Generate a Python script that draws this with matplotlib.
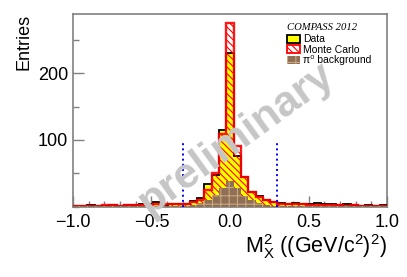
"""Missing-mass-squared histogram: data, Monte Carlo and pi0 background (COMPASS 2012)."""
import numpy as np
import matplotlib.pyplot as plt
from matplotlib.patches import Patch
from matplotlib.ticker import MultipleLocator

plt.rcParams["font.family"] = ["Liberation Sans", "DejaVu Sans"]
plt.rcParams["mathtext.fontset"] = "custom"
plt.rcParams["mathtext.rm"] = "Liberation Sans"
plt.rcParams["mathtext.it"] = "Liberation Sans"
plt.rcParams["mathtext.default"] = "regular"
plt.rcParams["hatch.linewidth"] = 0.8

N_BINS = 43
X_MIN, X_MAX = -1.0, 1.0

data_counts = [2, 2, 3, 2, 2, 3, 2, 3, 3, 4, 5, 7, 3, 4, 5,
               5, 9, 13, 34, 48, 115, 230, 76, 45, 23, 16, 10,
               8, 6, 5, 6, 4, 4, 6, 5, 4, 3, 4, 3, 2, 3, 2, 3]
mc_counts = [2, 2, 2, 2, 3, 3, 2, 3, 3, 3, 3, 4, 4, 4, 4,
             4, 8, 11, 25, 50, 109, 275, 91, 45, 23, 15, 10,
             8, 5, 4, 4, 4, 3, 3, 3, 3, 3, 2, 3, 2, 2, 2, 2]
bkg_counts = [1, 1, 1, 1, 1, 1, 1, 1, 1, 1, 1, 1, 1, 1, 2,
              2, 3, 6, 10, 18, 28, 38, 29, 17, 10, 6, 3,
              2, 2, 1, 1, 1, 1, 1, 1, 1, 1, 1, 1, 1, 1, 1, 1]
cut_values = [-0.3, 0.3]
cut_height = 95

DATA_FILL = "#ffff00"
MC_COLOUR = "#ff0000"
BKG_FILL = "#8f6f55"
BKG_HATCH = "#c9a77f"
FRAME = "#808080"

edges = np.linspace(X_MIN, X_MAX, N_BINS + 1)

fig = plt.figure(figsize=(4.07, 2.77), dpi=100)
ax = fig.add_axes([0.179, 0.253, 0.772, 0.696])

ax.stairs(data_counts, edges, fill=True, facecolor=DATA_FILL, edgecolor="none", zorder=2)
ax.stairs(data_counts, edges, color="black", linewidth=1.3, zorder=3)
ax.stairs(mc_counts, edges, fill=True, facecolor="none", edgecolor=MC_COLOUR,
          hatch="\\\\\\\\\\", linewidth=0, zorder=3.5)
ax.stairs(mc_counts, edges, color=MC_COLOUR, linewidth=1.7, alpha=0.9, zorder=4)
ax.stairs(bkg_counts, edges, fill=True, facecolor=BKG_FILL, edgecolor=BKG_HATCH,
          hatch="++", linewidth=0, zorder=5)
ax.vlines(cut_values, 0, cut_height, colors="blue", linestyles=":", linewidth=1.4, zorder=6)

fig.text(0.58, 0.50, "preliminary", rotation=36, fontsize=31, fontweight="bold",
         color="#c6c6c6", ha="center", va="center", zorder=1)
ax.set_facecolor("none")

ax.set_xlim(X_MIN, X_MAX)
ax.set_ylim(0, 288)
ax.xaxis.set_major_locator(MultipleLocator(0.5))
ax.xaxis.set_minor_locator(MultipleLocator(0.1))
ax.yaxis.set_minor_locator(MultipleLocator(50))
ax.set_yticks([100, 200])
ax.xaxis.set_major_formatter(plt.FuncFormatter(lambda v, p: f"{v:.1f}".replace("-", "\u2212")))
ax.tick_params(which="both", direction="in", colors=FRAME, labelcolor="black", labelsize=13)
ax.tick_params(which="major", length=8, width=1)
ax.tick_params(which="minor", length=4, width=1)
ax.tick_params(axis="x", pad=5)
for spine in ax.spines.values():
    spine.set_color(FRAME)
    spine.set_linewidth(1.2)

ax.set_ylabel("Entries", fontsize=13, loc="top")
ax.yaxis.set_label_coords(-0.13, 1.0)
ax.set_xlabel("M$_X^2$ ((GeV/c$^2$)$^2$)", fontsize=15.5, loc="right")
ax.xaxis.set_label_coords(1.0, -0.13)

ax.text(0.68, 0.955, "COMPASS 2012", transform=ax.transAxes, fontsize=7.7,
        family=["Liberation Serif", "DejaVu Serif"], style="italic", va="top")
handles = [
    Patch(facecolor=DATA_FILL, edgecolor="black", linewidth=1.3),
    Patch(facecolor="white", edgecolor=MC_COLOUR, hatch="\\\\\\\\\\", linewidth=1.3),
    Patch(facecolor=BKG_FILL, edgecolor=BKG_HATCH, hatch="++", linewidth=0),
]
ax.legend(handles, ["Data", "Monte Carlo", "\u03c0\u2070 background"], loc="upper left",
          bbox_to_anchor=(0.68, 0.895), frameon=False, fontsize=7.5, handlelength=1.3,
          handleheight=0.8, handletextpad=0.3, labelspacing=0.05, borderpad=0, borderaxespad=0)

fig.savefig("out.png", dpi=100)
